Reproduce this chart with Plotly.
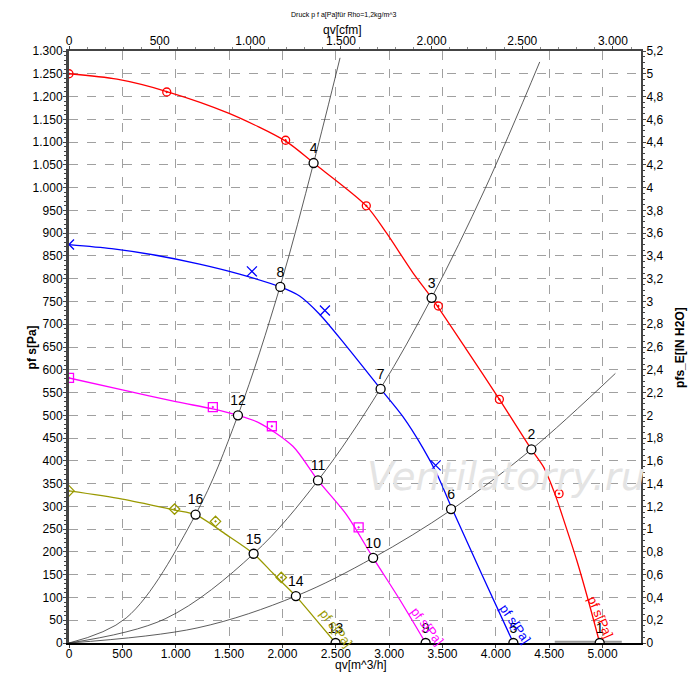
import plotly.graph_objects as go

# fan curves, qv [m^3/h] vs pf s [Pa]
red_q = [0, 450, 916, 1500, 2030, 2292, 2786, 2973, 3223, 3398, 3723, 4033, 4333, 4450, 4552, 4650, 4760, 4870, 4973]
red_p = [1250, 1238, 1211, 1163, 1102, 1054, 960, 901, 813, 758, 645, 535, 425, 385, 328, 260, 180, 90, 0]
blue_q = [0, 400, 800, 1223, 1598, 1980, 2161, 2348, 2599, 2920, 3129, 3317, 3450, 3580, 3870, 4164]
blue_p = [875, 866, 852, 832, 810, 782, 762, 722, 652, 558, 497, 428, 370, 300, 150, 0]
mag_q = [0, 500, 1000, 1348, 1583, 1786, 2098, 2333, 2600, 2850, 3100, 3342]
mag_p = [582, 556, 530, 514, 500, 483, 432, 357, 282, 187, 95, 0]
oli_q = [0, 500, 989, 1186, 1474, 1730, 1911, 2126, 2300, 2498]
oli_p = [334, 316, 292, 282, 238, 196, 153, 103, 55, 0]
tail_q = [4552, 5180]
tail_p = [3, 3]

# measured points on each curve
red_mq = [0, 916, 2030, 2786, 3461, 4033, 4592]
red_mp = [1250, 1210, 1104, 960, 740, 535, 328]
blue_mq = [0, 1714, 2398, 3436]
blue_mp = [875, 816, 730, 390]
mag_mq = [0, 1348, 1901, 2714]
mag_mp = [582, 518, 476, 254]
oli_mq = [0, 989, 1373, 1989]
oli_mp = [334, 294, 267, 144]

# system curves
sysA_q = [0, 536, 1186, 1583, 1977, 2292, 2540]
sysA_p = [0, 55, 282, 500, 782, 1054, 1285]
sysB_q = [0, 900, 1730, 2333, 2917, 3398, 3900, 4411]
sysB_p = [0, 53, 196, 357, 558, 758, 998, 1276]
sysC_q = [0, 1200, 2126, 2850, 3580, 4333, 5120]
sysC_p = [0, 33, 103, 187, 292, 425, 592]

# operating points 1..16
op_q = [4973, 4333, 3398, 2292, 4164, 3580, 2920, 1980, 3342, 2850, 2333, 1583, 2498, 2126, 1730, 1186]
op_p = [0, 425, 758, 1054, 0, 294, 558, 782, 0, 187, 357, 500, 0, 103, 196, 282]
op_lab = [str(i) for i in range(1, 17)]

# curve labels near the lower ends
lab_q = [4980, 4176, 3358, 2504]
lab_p = [56, 42, 36, 32]
lab_ang = [66, 56, 52, 52]

cfm_ticks = [0, 500, 1000, 1500, 2000, 2500, 3000]
inh2o_ticks = [round(i * 0.2, 1) for i in range(27)]

RED, BLUE, MAG, OLI = "#ff0000", "#0000ff", "#ff00ff", "#999900"
FONT = "Liberation Sans, Arial, sans-serif"

fig = go.Figure()

for q, p in [(sysA_q, sysA_p), (sysB_q, sysB_p), (sysC_q, sysC_p)]:
    fig.add_trace(go.Scatter(x=q, y=p, mode="lines", line=dict(color="#333333", width=0.8, shape="spline"),
                             hoverinfo="skip"))
fig.add_trace(go.Scatter(x=tail_q, y=tail_p, mode="lines", line=dict(color="#999999", width=2),
                         hoverinfo="skip"))

curves = [
    (red_q, red_p, red_mq, red_mp, RED, "circle-open-dot", 8),
    (blue_q, blue_p, blue_mq, blue_mp, BLUE, "x-thin-open", 10),
    (mag_q, mag_p, mag_mq, mag_mp, MAG, "square-open-dot", 9),
    (oli_q, oli_p, oli_mq, oli_mp, OLI, "diamond-open-dot", 8),
]
for q, p, mq, mp, col, sym, sz in curves:
    fig.add_trace(go.Scatter(x=q, y=p, mode="lines", line=dict(color=col, width=1.3, shape="spline", smoothing=0.8)))
    fig.add_trace(go.Scatter(x=mq, y=mp, mode="markers",
                             marker=dict(symbol=sym, size=sz, color=col, line=dict(color=col, width=1.3))))

fig.add_trace(go.Scatter(x=op_q, y=op_p, mode="markers+text", text=op_lab, textposition="top center",
                         textfont=dict(family=FONT, size=14, color="black"),
                         marker=dict(symbol="circle", size=9, color="white", line=dict(color="black", width=1.3))))

# dummy trace so the secondary axes are drawn
fig.add_trace(go.Scatter(x=cfm_ticks[:1], y=[0], xaxis="x2", yaxis="y2", mode="markers",
                         marker=dict(opacity=0), hoverinfo="skip"))

for q, p, a, col in zip(lab_q, lab_p, lab_ang, [RED, BLUE, MAG, OLI]):
    fig.add_annotation(x=q, y=p, text="pf s[Pa]", textangle=a, showarrow=False,
                       font=dict(family=FONT, size=13, color=col))

ann = dict(xref="paper", yref="paper", showarrow=False, xanchor="center", yanchor="middle")
fig.add_annotation(x=0.764, y=0.282, text="Ventilatorry.ru",
                   font=dict(family="DejaVu Sans", size=39, color="#e4e4e4", style="italic"), **ann)
fig.add_annotation(x=0.48, y=1.061, text="Druck p f a[Pa]für Rho=1,2kg/m^3",
                   font=dict(family=FONT, size=7, color="black"), **ann)
fig.add_annotation(x=0.478, y=1.036, text="qv[cfm]", font=dict(family=FONT, size=12, color="black"), **ann)
fig.add_annotation(x=0.51, y=-0.038, text="qv[m^3/h]", font=dict(family=FONT, size=12, color="black"), **ann)
fig.add_annotation(x=-0.064, y=0.5, text="<b>pf s[Pa]</b>", textangle=-90,
                   font=dict(family=FONT, size=12, color="black"), **ann)
fig.add_annotation(x=1.068, y=0.5, text="<b>pfs_E[IN H2O]</b>", textangle=-90,
                   font=dict(family=FONT, size=12, color="black"), **ann)

tick_font = dict(family=FONT, size=12, color="black")
fig.update_layout(
    width=692, height=670,
    margin=dict(l=61, r=59, t=43, b=35),
    paper_bgcolor="white", plot_bgcolor="white",
    showlegend=False,
    separators=",.",
    xaxis=dict(range=[0, 5360], dtick=500, tickformat=",d", showgrid=True, gridcolor="#a0a0a0",
               griddash="dash", gridwidth=1, zeroline=False, showline=True, linecolor="black",
               linewidth=2, ticks="outside", ticklen=3, tickfont=tick_font, automargin=False,
               ticklabelstandoff=-4),
    xaxis2=dict(range=[0, 5360 / 1.699], overlaying="x", side="top", tickvals=cfm_ticks,
                tickformat=",d", showgrid=False, zeroline=False, showline=True, linecolor="#444444",
                linewidth=2, ticks="outside", ticklen=3, tickfont=tick_font, automargin=False,
                ticklabelstandoff=-4,
                minor=dict(dtick=100, ticks="outside", ticklen=2, tickcolor="#888888")),
    yaxis=dict(range=[0, 1300], dtick=50, tickformat=",d", showgrid=True, gridcolor="#a0a0a0",
               griddash="dash", gridwidth=1, zeroline=False, showline=True, linecolor="#444444",
               linewidth=3, ticks="outside", ticklen=3, tickfont=tick_font, automargin=False,
               ticklabelstandoff=-2,
               minor=dict(dtick=10, ticks="outside", ticklen=2, tickcolor="#444444")),
    yaxis2=dict(range=[0, 5.2], overlaying="y", side="right", tickvals=inh2o_ticks, showgrid=False,
                zeroline=False, showline=True, linecolor="#444444", linewidth=2, ticks="outside",
                ticklen=3, tickfont=tick_font, automargin=False, ticklabelstandoff=-2,
                minor=dict(dtick=0.05, ticks="outside", ticklen=2, tickcolor="#444444")),
)

fig.write_html("out.html")
